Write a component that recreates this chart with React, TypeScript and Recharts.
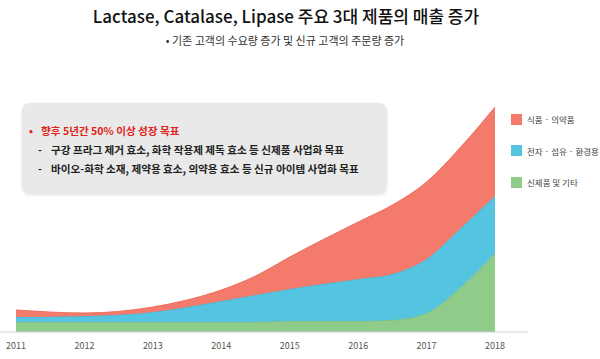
import React from "react";
import { AreaChart, Area, XAxis, YAxis } from "recharts";

const years = [2011, 2012, 2013, 2013.5, 2014, 2014.5, 2015, 2016, 2016.5, 2017, 2017.5, 2018];
const newProducts = [10, 10, 10, 10, 10, 10, 11, 11, 12, 19, 45, 79];
const electronics = [5, 6, 10, 15, 21, 27, 32, 42, 46, 54, 59, 57];
const foodPharma = [7, 3, 5, 7, 11, 19, 32, 57, 69, 77, 81, 89];
const tickYears = [2011, 2012, 2013, 2014, 2015, 2016, 2017, 2018];

const seriesNames = ["식품 · 의약품", "전자 · 섬유 · 환경용", "신제품 및 기타"];
const seriesColors = ["#F47B6B", "#54C4E1", "#8FCB89"];

const title = "Lactase, Catalase, Lipase 주요 3대 제품의 매출 증가";
const subtitle = "• 기존 고객의 수요량 증가 및 신규 고객의 주문량 증가";
const boxHeadline = "향후 5년간  50% 이상 성장 목표";
const boxLines = [
  "구강 프라그 제거 효소, 화학 작용제 제독 효소 등 신제품 사업화 목표",
  "바이오-화학 소재, 제약용 효소, 의약용 효소 등 신규 아이템 사업화 목표",
];

const data = years.map((y, i) => ({
  year: y,
  green: newProducts[i],
  blue: electronics[i],
  red: foodPharma[i],
}));

const FONT = "'Noto Sans CJK KR', 'Noto Sans', sans-serif";

export default function App() {
  return (
    <div style={{ position: "absolute", left: 0, top: 0, width: 600, height: 359, background: "#fff", fontFamily: FONT, overflow: "hidden" }}>
      <div style={{ position: "absolute", left: 0, width: 572, top: 3, textAlign: "center", fontSize: 17, fontWeight: 500, color: "#111", whiteSpace: "nowrap" }}>
        {title}
      </div>
      <div style={{ position: "absolute", left: 0, width: 570, top: 32, textAlign: "center", fontSize: 11, color: "#333", whiteSpace: "nowrap" }}>
        {subtitle}
      </div>
      <div style={{ position: "absolute", left: 0, top: 0 }}>
        <AreaChart width={600} height={359} data={data} margin={{ top: 107, right: 72, bottom: 0, left: 0 }}>
          <XAxis
            dataKey="year"
            type="number"
            domain={[2010.766, 2018.482]}
            ticks={tickYears}
            tickLine={false}
            axisLine={{ stroke: "#d0d0d0" }}
            tick={{ fontSize: 9, fill: "#555", fontFamily: FONT }}
            tickMargin={5}
            allowDataOverflow
            height={27}
          />
          <YAxis hide domain={[0, 225]} allowDataOverflow />
          <Area dataKey="green" stackId="1" type="monotone" fill={seriesColors[2]} fillOpacity={1} stroke="#7db878" strokeWidth={1} isAnimationActive={false} />
          <Area dataKey="blue" stackId="1" type="monotone" fill={seriesColors[1]} fillOpacity={1} stroke="#46adc8" strokeWidth={1} isAnimationActive={false} />
          <Area dataKey="red" stackId="1" type="monotone" fill={seriesColors[0]} fillOpacity={1} stroke="#ec6f5f" strokeWidth={1} isAnimationActive={false} />
        </AreaChart>
      </div>
      <div style={{ position: "absolute", left: 22, top: 103, width: 365, height: 91, background: "#e9e9e9", borderRadius: 8, boxShadow: "0 1px 3px rgba(0,0,0,0.12)" }}>
        <div style={{ position: "absolute", left: 7, top: 20, fontSize: 10.6, fontWeight: 700, color: "#e2231a", whiteSpace: "nowrap" }}>
          <span style={{ display: "inline-block", width: 12 }}>•</span>
          {boxHeadline}
        </div>
        {boxLines.map((t, i) => (
          <div key={i} style={{ position: "absolute", left: 16, top: 39 + i * 18.5, fontSize: 10.6, fontWeight: 700, color: "#222", whiteSpace: "nowrap" }}>
            <span style={{ display: "inline-block", width: 13 }}>-</span>
            {t}
          </div>
        ))}
      </div>
      {seriesNames.map((n, i) => (
        <div key={n} style={{ position: "absolute", left: 511, top: 113 + i * 31.5, height: 12, display: "flex", alignItems: "center", whiteSpace: "nowrap" }}>
          <div style={{ width: 11, height: 11, background: seriesColors[i], marginRight: 5 }} />
          <span style={{ fontSize: 8.5, color: "#444" }}>{n}</span>
        </div>
      ))}
    </div>
  );
}
